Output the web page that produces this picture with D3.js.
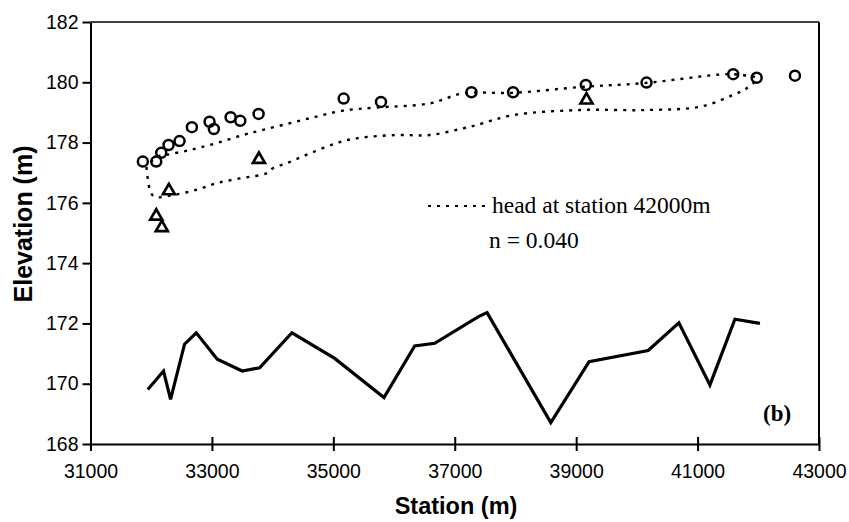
<!DOCTYPE html>
<html><head><meta charset="utf-8">
<script src="https://cdn.jsdelivr.net/npm/d3@7"></script>
<style>
html,body{margin:0;padding:0;background:#fff;}
svg{display:block;}
</style></head>
<body>
<svg id="chart" width="849" height="522"></svg>
<script>
// Ground (bed) profile
const groundStation = [31944,32203,32319,32549,32742,33088,33500,33786,34318,35022,35834,36340,36670,37384,37532,38582,39213,40186,40692,41203,41615,42027];
const groundElev    = [169.81,170.42,169.48,171.31,171.69,170.81,170.42,170.53,171.69,170.84,169.54,171.25,171.34,172.22,172.36,168.71,170.73,171.10,172.02,169.96,172.14,172.00];

// Observed (circles)
const circleStation = [31862,32083,32165,32286,32467,32670,32961,33032,33308,33467,33769,35170,35785,37275,37961,39159,40159,41587,41973,42604];
const circleElev    = [177.37,177.37,177.66,177.92,178.05,178.51,178.69,178.45,178.84,178.72,178.95,179.46,179.35,179.67,179.67,179.91,179.99,180.27,180.15,180.22];

// Observed (triangles)
const triStation = [32083,32175,32291,33774,39170];
const triElev    = [175.56,175.18,176.40,177.44,179.41];

// Computed head loop (head at station 42000m, n = 0.040)
const headStation = [31923,31944,31984,32055,32357,32742,33072,33456,33896,34005,34226,34555,35050,35379,36039,36588,37136,37357,37961,39060,40159,41039,41587,41808,41973,41725,41478,40104,39114,37961,37136,36588,35709,35159,34720,34280,33840,33510,33072,32632,32248,32088,31923];
const headElev    = [177.19,176.79,176.40,176.20,176.26,176.43,176.65,176.81,176.98,177.15,177.31,177.59,177.98,178.14,178.25,178.25,178.47,178.58,178.91,179.08,179.08,179.19,179.58,179.80,180.13,180.24,180.27,179.97,179.85,179.65,179.63,179.30,179.16,179.06,178.86,178.64,178.42,178.25,177.98,177.75,177.59,177.52,177.19];

const xTicks = [31000,33000,35000,37000,39000,41000,43000];
const yTicks = [168,170,172,174,176,178,180,182];

const legendLabel = "head at station 42000m";
const nLabel = "n = 0.040";
const panelLabel = "(b)";
const xTitle = "Station (m)";
const yTitle = "Elevation (m)";

const svg = d3.select("#chart");
const x = d3.scaleLinear().domain([31000,43000]).range([90.5,819]);
const y = d3.scaleLinear().domain([168,182]).range([444,22]);

const sansFont = "'Liberation Sans', Arial, Helvetica, sans-serif";
const serifFont = "'Liberation Serif', 'Times New Roman', serif";

// frame top & right
svg.append("line").attr("x1",x(31000)).attr("x2",x(43000)).attr("y1",y(182)).attr("y2",y(182))
  .attr("stroke","#000").attr("stroke-width",1.6);
svg.append("line").attr("x1",x(43000)).attr("x2",x(43000)).attr("y1",y(182)).attr("y2",y(168))
  .attr("stroke","#000").attr("stroke-width",2);

// Y axis
const yAxis = svg.append("g").attr("transform",`translate(${x(31000)},0)`)
  .call(d3.axisLeft(y).tickValues(yTicks).tickFormat(d3.format("d")).tickSizeOuter(0).tickSizeInner(8).tickPadding(4));
yAxis.select(".domain").attr("stroke","#000").attr("stroke-width",2);
yAxis.selectAll(".tick line").attr("stroke","#000").attr("stroke-width",2);
yAxis.selectAll(".tick text").attr("font-family",sansFont).attr("font-size",19.5).attr("fill","#000");

// X axis
const xAxis = svg.append("g").attr("transform",`translate(0,${y(168)})`)
  .call(d3.axisBottom(x).tickValues(xTicks).tickFormat(d3.format("d")).tickSizeOuter(0).tickSizeInner(7).tickPadding(13));
xAxis.select(".domain").attr("stroke","#000").attr("stroke-width",2.2);
xAxis.selectAll(".tick line").attr("stroke","#000").attr("stroke-width",2).attr("y1",-7).attr("y2",7);
xAxis.selectAll(".tick text").attr("font-family",sansFont).attr("font-size",19.5).attr("fill","#000");

// Axis titles
svg.append("text").attr("x",456).attr("y",514).attr("text-anchor","middle")
  .attr("font-family",sansFont).attr("font-weight","bold").attr("font-size",23.5).text(xTitle);
svg.append("text").attr("transform","translate(32,224) rotate(-90)").attr("text-anchor","middle")
  .attr("font-family",sansFont).attr("font-weight","bold").attr("font-size",25).text(yTitle);

// Ground line
const groundData = groundStation.map((s,i)=>({s, e: groundElev[i]}));
svg.append("path").datum(groundData)
  .attr("d", d3.line().x(d=>x(d.s)).y(d=>y(d.e)))
  .attr("fill","none").attr("stroke","#000").attr("stroke-width",3.2).attr("stroke-linejoin","miter");

// Head loop (dotted)
const headData = headStation.map((s,i)=>({s, e: headElev[i]}));
svg.append("path").datum(headData)
  .attr("d", d3.line().x(d=>x(d.s)).y(d=>y(d.e)).curve(d3.curveCatmullRom.alpha(0.5)))
  .attr("fill","none").attr("stroke","#000").attr("stroke-width",2.4).attr("stroke-dasharray","3,6");

// Circles
svg.append("g").selectAll("circle").data(circleStation.map((s,i)=>({s,e:circleElev[i]})))
  .join("circle").attr("cx",d=>x(d.s)).attr("cy",d=>y(d.e)).attr("r",5)
  .attr("fill","none").attr("stroke","#000").attr("stroke-width",2.5);

// Triangles
const tri = d3.symbol().type(d3.symbolTriangle).size(62);
svg.append("g").selectAll("path").data(triStation.map((s,i)=>({s,e:triElev[i]})))
  .join("path").attr("d",tri).attr("transform",d=>`translate(${x(d.s)},${y(d.e)})`)
  .attr("fill","none").attr("stroke","#000").attr("stroke-width",2.7).attr("stroke-linejoin","miter");

// Legend
svg.append("line").attr("x1",428).attr("x2",491).attr("y1",206).attr("y2",206)
  .attr("stroke","#000").attr("stroke-width",2.2).attr("stroke-dasharray","3,6");
svg.append("text").attr("x",492).attr("y",213).attr("font-family",serifFont).attr("font-size",23.5).text(legendLabel);
svg.append("text").attr("x",489).attr("y",248).attr("font-family",serifFont).attr("font-size",23.5).text(nLabel);

// Panel label
svg.append("text").attr("x",763).attr("y",421).attr("font-family",serifFont).attr("font-weight","bold").attr("font-size",23).text(panelLabel);
</script>
</body></html>
